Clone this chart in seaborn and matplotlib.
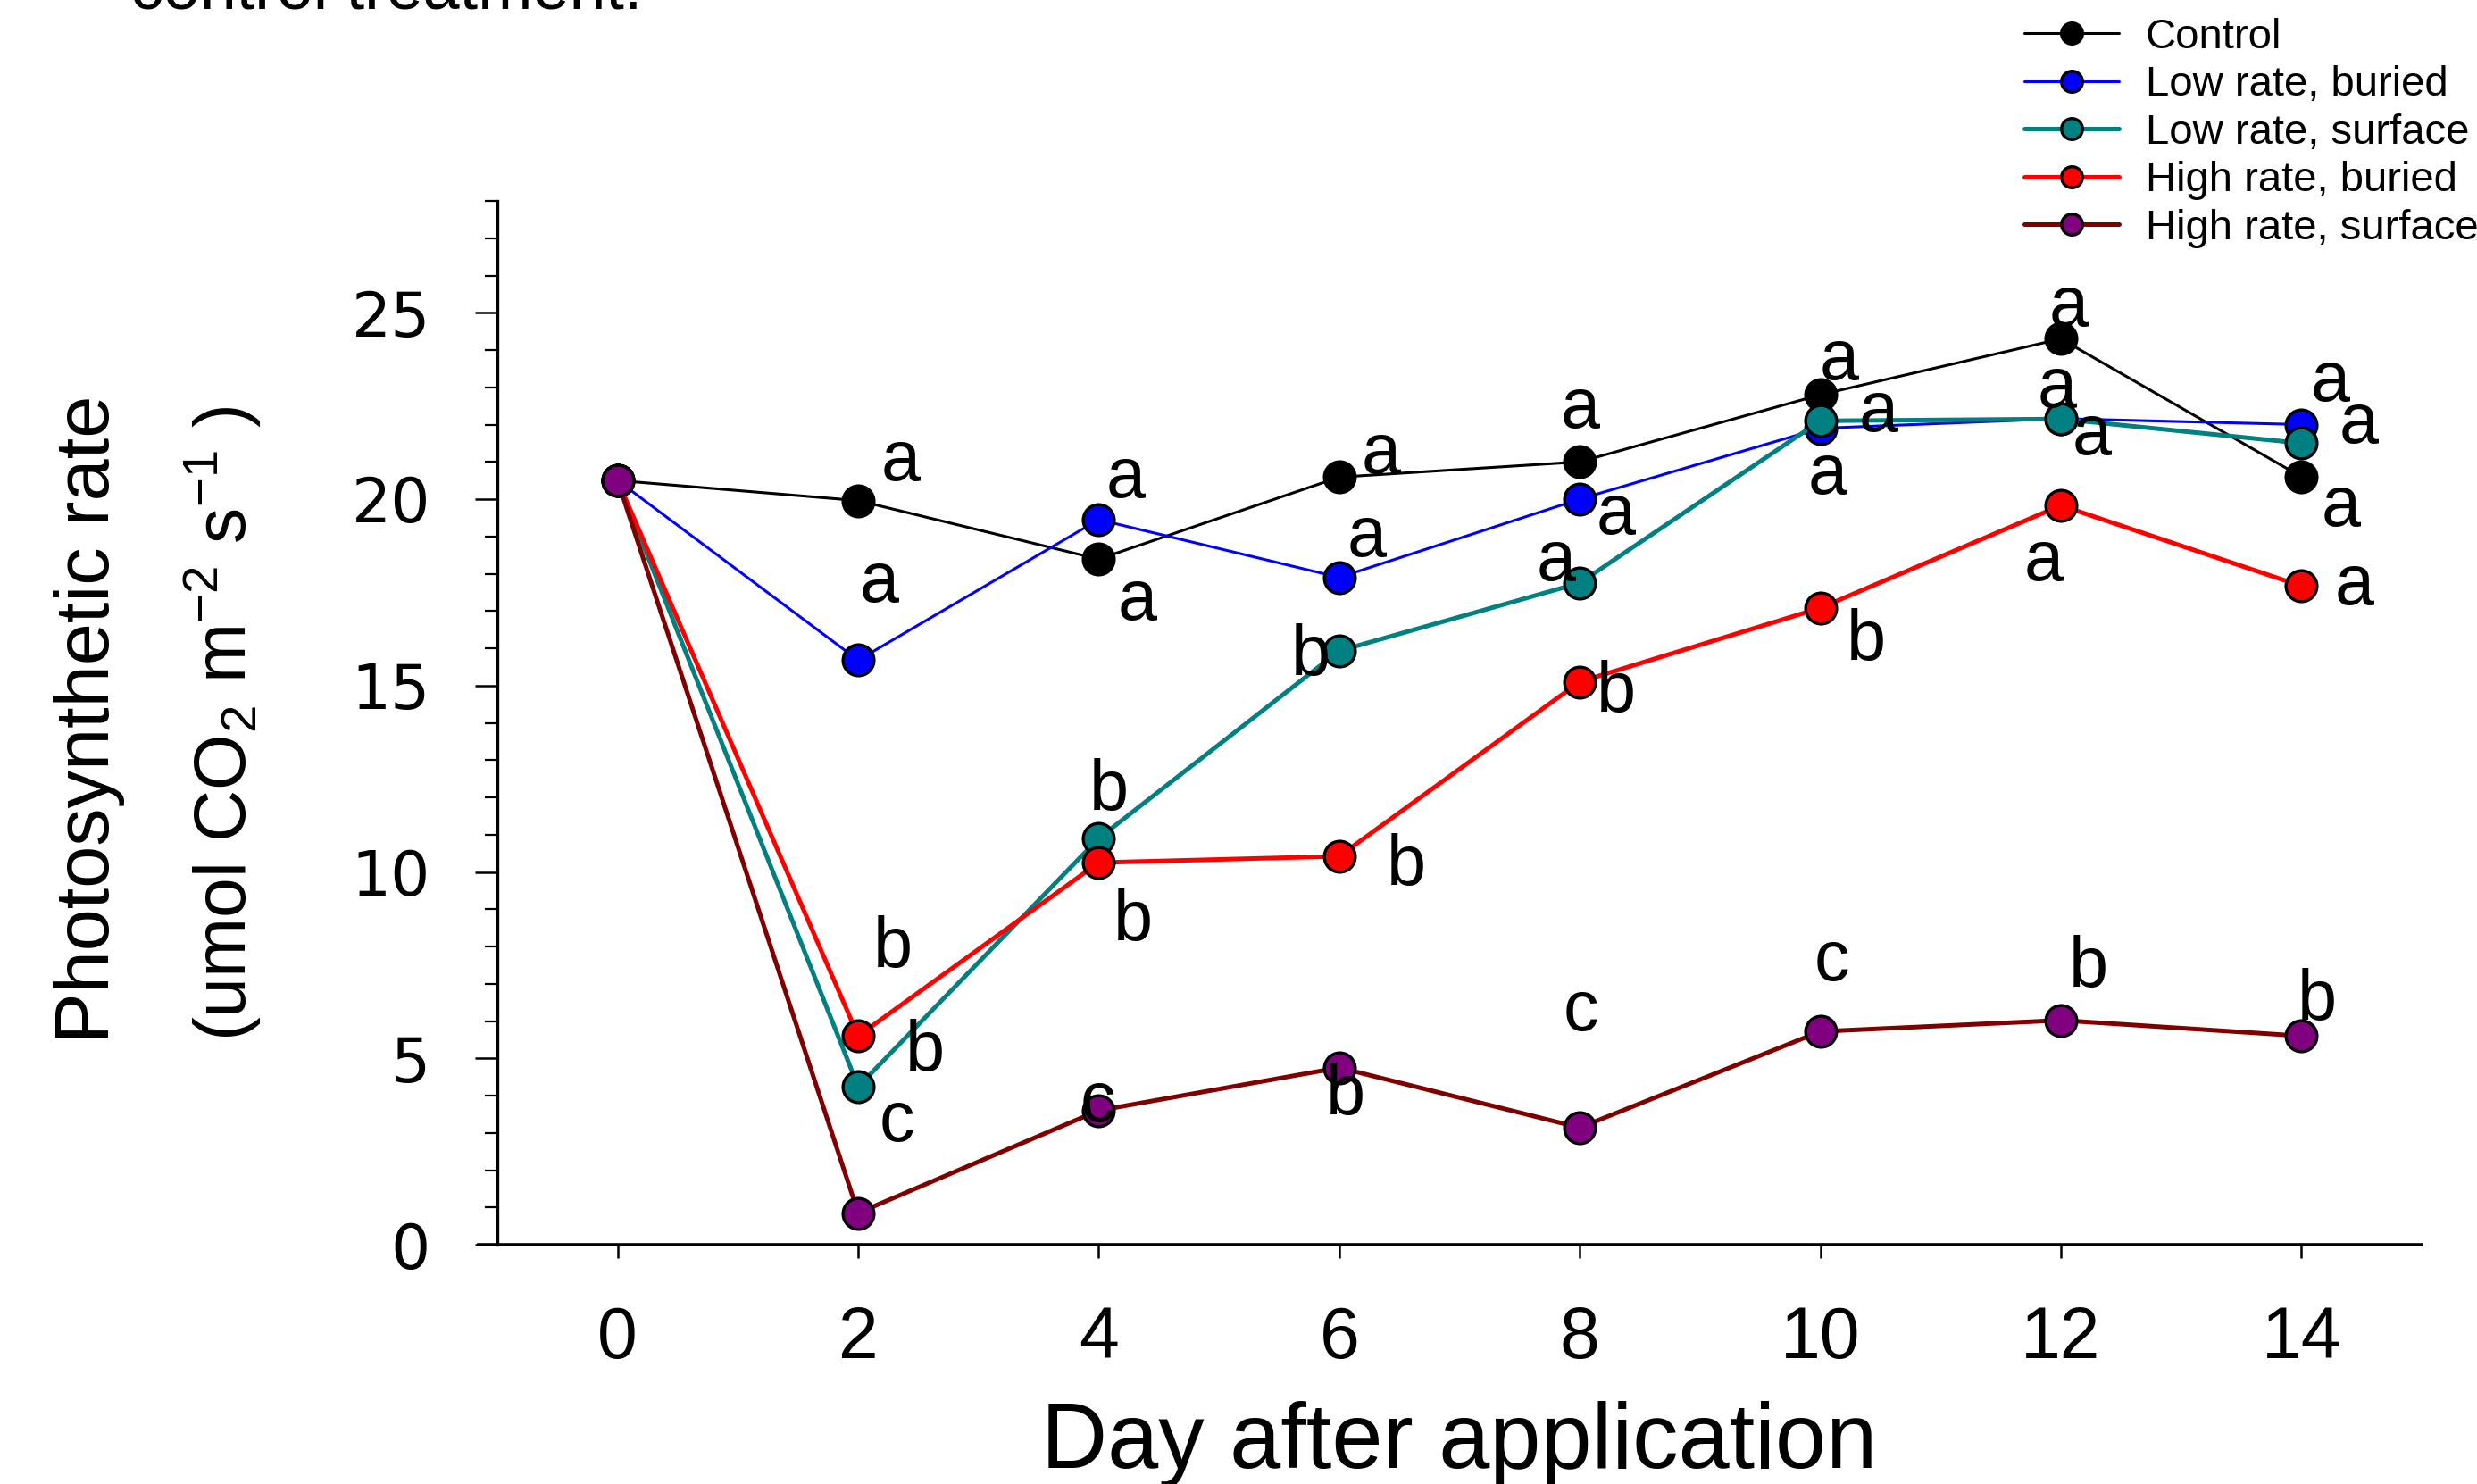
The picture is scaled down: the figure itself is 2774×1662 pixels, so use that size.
import matplotlib
matplotlib.use("Agg")
import matplotlib.pyplot as plt
import seaborn as sns

# --- Data ---
days = [0, 2, 4, 6, 8, 10, 12, 14]
treatments = ["Control", "Low rate, buried", "Low rate, surface",
              "High rate, buried", "High rate, surface"]

control = [20.5, 19.96, 18.39, 20.59, 21.0, 22.8, 24.3, 20.6]
low_buried = [20.5, 15.68, 19.45, 17.9, 20.0, 21.9, 22.16, 22.0]
low_surface = [20.5, 4.24, 10.9, 15.93, 17.75, 22.1, 22.15, 21.5]
high_buried = [20.5, 5.6, 10.25, 10.42, 15.1, 17.08, 19.83, 17.67]
high_surface = [20.5, 0.85, 3.6, 4.75, 3.14, 5.72, 6.02, 5.6]

letters_control = ["", "a", "a", "a", "a", "a", "a", "a"]
letters_low_buried = ["", "a", "a", "a", "a", "a", "a", "a"]
letters_low_surface = ["", "b", "b", "b", "a", "a", "a", "a"]
letters_high_buried = ["", "b", "b", "b", "b", "b", "a", "a"]
letters_high_surface = ["", "c", "c", "b", "c", "c", "b", "b"]

series = [control, low_buried, low_surface, high_buried, high_surface]
letters = [letters_control, letters_low_buried, letters_low_surface,
           letters_high_buried, letters_high_surface]

# --- Styling ---
line_colors = ["#000000", "#0000ff", "#008080", "#ff0000", "#800000"]
face_colors = ["#000000", "#0000ff", "#008080", "#ff0000", "#800080"]
line_widths = [2.2, 2.2, 3.6, 3.6, 3.6]

# letter offsets in points from each point
letter_offsets = [
    [(0, 0), (34, 31), (31, -34), (34, 18), (0, 42), (15, 27), (6, 25), (32, -25)],
    [(0, 0), (17, 62), (22, 33), (22, 32), (29, -13), (6, -38), (-3, 24), (23, 34)],
    [(0, 0), (54, 28), (8, 38), (-23, -5), (-19, 17), (47, 6), (25, -14), (46, 15)],
    [(0, 0), (28, 70), (28, -48), (54, -8), (29, -9), (37, -27), (-14, -46), (43, 0)],
    [(0, 0), (31, 73), (-1, 6), (5, -23), (1, 93), (9, 56), (22, 42), (13, 28)],
]

sns.set_style("ticks")
plt.rcParams["font.family"] = ["Liberation Sans", "DejaVu Sans"]
plt.rcParams["mathtext.fontset"] = "custom"
plt.rcParams["mathtext.rm"] = "Liberation Sans"
plt.rcParams["mathtext.default"] = "regular"
for key in ["text.color", "axes.labelcolor", "xtick.color", "ytick.color", "axes.edgecolor"]:
    plt.rcParams[key] = "black"

W, H = 2774, 1662
fig = plt.figure(figsize=(W / 100, H / 100), dpi=100)
ax = fig.add_axes([557 / W, 1 - 1394 / H, (2712 - 557) / W, (1394 - 225) / H])

for vals, lc, fc, lw in zip(series, line_colors, face_colors, line_widths):
    sns.lineplot(x=days, y=vals, ax=ax, color=lc, lw=lw, marker="o",
                 markersize=25, markerfacecolor=fc, markeredgecolor="black",
                 markeredgewidth=2.4, errorbar=None, legend=False)

for vals, labs, offs in zip(series, letters, letter_offsets):
    for d, v, lab, off in zip(days, vals, labs, offs):
        if lab:
            ax.annotate(lab, xy=(d, v), xytext=off, textcoords="offset points",
                        ha="center", va="center", fontsize=57)

ax.set_xlim(-1, 15)
ax.set_ylim(0, 28)
ax.set_xticks(days)
ax.set_yticks([0, 5, 10, 15, 20, 25])
ax.set_yticks(range(0, 29), minor=True)
ax.tick_params(axis="x", direction="out", length=11, width=1.8, pad=38, labelsize=58)
ax.tick_params(axis="y", which="major", direction="out", length=18, width=1.8, pad=36)
ax.tick_params(axis="y", which="minor", direction="out", length=10, width=1.6)
for lab in ax.get_yticklabels():
    lab.set_fontfamily("DejaVu Sans")
    lab.set_fontsize(50)
for s in ["top", "right"]:
    ax.spines[s].set_visible(False)
ax.spines["left"].set_linewidth(2.4)
ax.spines["bottom"].set_linewidth(2.6)
ax.spines["bottom"].set_bounds(-1.156, 15)
ax.set_xlabel("")
ax.set_ylabel("")

fig.text(0.5 * (557 + 2712) / W, 1 - 1617 / H, "Day after application",
         ha="center", va="center", fontsize=74)
fig.text(100 / W, 1 - 805 / H, "Photosynthetic rate", rotation=90,
         ha="center", va="center", fontsize=61)
fig.text(248 / W, 1 - 810 / H, "(umol CO$_2$ m$^{-2}$ s$^{-1}$ )", rotation=90,
         ha="center", va="center", fontsize=58)

# caption cut off at the top of the original image
fig.text(146 / W, 1 - 9 / H, "control treatment.", ha="left", va="baseline",
         fontsize=53)

fig.legend(ax.lines, treatments, loc="upper left",
           bbox_to_anchor=(2267 / W, 1 - 20 / H), bbox_transform=fig.transFigure,
           frameon=False, fontsize=34, markerscale=0.68, handlelength=2.25,
           handletextpad=0.62, labelspacing=0.2, borderpad=0, borderaxespad=0)

fig.savefig("out.png", dpi=100)
